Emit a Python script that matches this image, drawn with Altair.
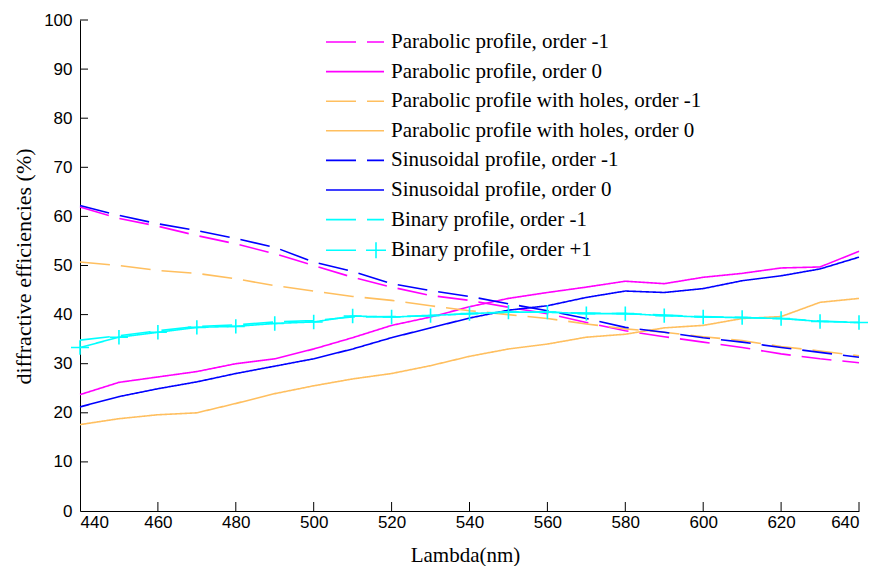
import altair as alt
import pandas as pd

wavelength = list(range(440, 641, 10))

series_names = [
    "Parabolic profile, order -1",
    "Parabolic profile, order 0",
    "Parabolic profile with holes, order -1",
    "Parabolic profile with holes, order 0",
    "Sinusoidal profile, order -1",
    "Sinusoidal profile, order 0",
    "Binary profile, order -1",
    "Binary profile, order +1",
]
series_colors = ["#FF00FF", "#FF00FF", "#FFBF5F", "#FFBF5F",
                 "#0000FF", "#0000FF", "#00FFFF", "#00FFFF"]
series_dashes = [[30, 11], [1, 0], [30, 11], [1, 0],
                 [30, 11], [1, 0], [30, 11], [1, 0]]

parabolic_m1 = [61.9, 59.6, 58.0, 56.1, 54.4, 52.4, 50.0, 47.6, 45.6, 43.9, 42.9,
                41.5, 40.2, 38.4, 36.7, 35.5, 34.4, 33.3, 32.0, 31.0, 30.2]
parabolic_0 = [23.7, 26.2, 27.3, 28.4, 30.0, 31.0, 33.0, 35.3, 37.8, 39.5, 41.6,
               43.3, 44.5, 45.6, 46.8, 46.3, 47.6, 48.4, 49.5, 49.7, 52.9]
holes_m1 = [50.7, 50.0, 49.0, 48.4, 47.3, 45.9, 44.8, 43.7, 42.9, 41.8, 40.8,
            40.0, 39.2, 38.1, 37.1, 36.4, 35.5, 34.7, 33.5, 32.6, 31.6]
holes_0 = [17.6, 18.8, 19.6, 20.0, 21.9, 23.9, 25.5, 26.9, 28.0, 29.6, 31.5,
           33.0, 34.0, 35.4, 36.0, 37.3, 37.8, 39.2, 39.6, 42.5, 43.3]
sinus_m1 = [62.2, 60.2, 58.5, 57.1, 55.5, 53.7, 50.7, 48.8, 46.3, 44.9, 43.7,
            42.2, 40.8, 39.2, 37.4, 36.4, 35.3, 34.4, 33.3, 32.3, 31.3]
sinus_0 = [21.2, 23.3, 24.9, 26.3, 28.0, 29.5, 31.0, 33.0, 35.3, 37.3, 39.3,
           40.9, 41.8, 43.5, 44.8, 44.5, 45.3, 46.9, 47.9, 49.3, 51.7]
binary_m1 = [34.8, 35.7, 36.7, 37.6, 37.9, 38.5, 38.8, 39.5, 39.6, 39.8, 40.2,
             40.5, 40.5, 40.3, 40.2, 39.9, 39.6, 39.4, 39.2, 38.7, 38.4]
binary_p1 = [33.3, 35.4, 36.4, 37.4, 37.6, 38.2, 38.5, 39.7, 39.5, 39.8, 40.2,
             40.5, 40.5, 40.2, 40.2, 39.8, 39.5, 39.4, 39.2, 38.6, 38.4]

x_tick_values = list(range(440, 641, 20))
y_tick_values = list(range(0, 101, 10))

all_values = [parabolic_m1, parabolic_0, holes_m1, holes_0,
              sinus_m1, sinus_0, binary_m1, binary_p1]
rows = []
for name, vals in zip(series_names, all_values):
    for lam, v in zip(wavelength, vals):
        rows.append({"lambda": lam, "eff": v, "series": name})
df = pd.DataFrame(rows)
df_marks = pd.DataFrame({"lambda": wavelength, "eff": binary_p1})
df_xt = pd.DataFrame({"v": x_tick_values[1:]})
df_yt = pd.DataFrame({"v": y_tick_values[1:]})

xscale = alt.Scale(domain=[440, 640], nice=False, zero=False)
yscale = alt.Scale(domain=[0, 100], nice=False)

TICKFONT = "Liberation Sans"
SERIF = "Liberation Serif, Times New Roman, serif"

shape_expr = (
    "datum.value == 'Binary profile, order +1' ? 'M-1,0H2M3,0H5M4,-0.8V0.8' : "
    "(indexof(datum.value, 'order -1') >= 0 ? 'M-1,0H2M3.1,0H4.8' : 'M-1,0H4.8')"
)

lines = alt.Chart(df).mark_line(strokeWidth=1.6).encode(
    x=alt.X("lambda:Q", scale=xscale,
            axis=alt.Axis(values=x_tick_values, title="Lambda(nm)", ticks=False,
                          grid=False, labelFont=TICKFONT, labelFontSize=17,
                          labelPadding=3, titleFont=SERIF, titleFontSize=21,
                          titleFontWeight="normal", titleX=385, titleY=44,
                          titleBaseline="middle", domainColor="black",
                          labelColor="black", titleColor="black")),
    y=alt.Y("eff:Q", scale=yscale,
            axis=alt.Axis(values=y_tick_values, title="diffractive efficiencies (%)",
                          ticks=False, grid=False, labelFont=TICKFONT,
                          labelFontSize=17, labelPadding=8, titleFont=SERIF,
                          titleFontSize=22, titleFontWeight="normal", titleX=-57,
                          titleY=246, titleBaseline="middle", titleAlign="center",
                          domainColor="black", labelColor="black",
                          titleColor="black")),
    color=alt.Color("series:N",
                    scale=alt.Scale(domain=series_names, range=series_colors),
                    legend=alt.Legend(
                        title=None, orient="none", legendX=245, legendY=11,
                        symbolSize=400, symbolStrokeWidth=1.6,
                        symbolType=alt.ExprRef(expr=shape_expr),
                        labelFont=SERIF, labelFontSize=21, labelColor="black",
                        labelOffset=44, rowPadding=8.6, padding=0, labelLimit=0)),
    strokeDash=alt.StrokeDash("series:N",
                              scale=alt.Scale(domain=series_names, range=series_dashes),
                              legend=None),
)

markers = alt.Chart(df_marks).mark_point(
    shape="M-1,0H1M0,-0.8V0.8", filled=False, color="#00FFFF", size=324,
    strokeWidth=1.6, opacity=1
).encode(x=alt.X("lambda:Q", scale=xscale), y=alt.Y("eff:Q", scale=yscale))

xticks = alt.Chart(df_xt).mark_rule(color="black", strokeWidth=1).encode(
    x=alt.X("v:Q", scale=xscale), y=alt.value(491), y2=alt.value(482))
yticks = alt.Chart(df_yt).mark_rule(color="black", strokeWidth=1).encode(
    y=alt.Y("v:Q", scale=yscale), x=alt.value(0), x2=alt.value(8))

chart = alt.layer(lines, markers, xticks, yticks).properties(
    width=779, height=491,
    autosize=alt.AutoSizeParams(type="none"),
    padding={"left": 72, "top": 12, "right": 11, "bottom": 55},
    background="white",
).configure_view(stroke=None)

chart.save("out.html", embed_options={"renderer": "svg", "actions": False})
